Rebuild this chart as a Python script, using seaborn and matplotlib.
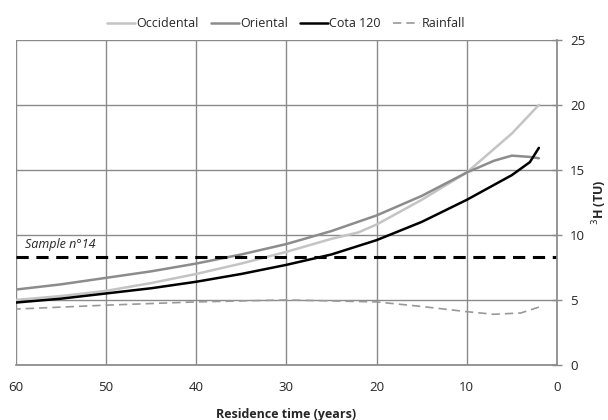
import numpy as np
import pandas as pd
import matplotlib
matplotlib.use('Agg')
import matplotlib.pyplot as plt
import seaborn as sns

# residence time (years) and 3H (TU)
yrs_occ = [60, 55, 50, 45, 40, 35, 30, 25, 22, 20, 15, 10, 5, 2]
occidental = [5.0, 5.3, 5.7, 6.3, 7.0, 7.8, 8.7, 9.7, 10.2, 10.8, 12.7, 14.8, 17.8, 20.0]

yrs_ori = [60, 55, 50, 45, 40, 35, 30, 25, 20, 15, 10, 7, 5, 3, 2]
oriental = [5.8, 6.2, 6.7, 7.2, 7.8, 8.5, 9.3, 10.3, 11.5, 13.0, 14.8, 15.7, 16.1, 16.0, 15.9]

yrs_cota = [60, 55, 50, 45, 40, 35, 30, 25, 20, 15, 10, 5, 3, 2]
cota120 = [4.8, 5.1, 5.5, 5.9, 6.4, 7.0, 7.7, 8.5, 9.6, 11.0, 12.7, 14.6, 15.6, 16.7]

yrs_rain = [60, 50, 40, 30, 20, 15, 10, 7, 4, 2]
rainfall = [4.3, 4.6, 4.85, 5.0, 4.85, 4.5, 4.1, 3.9, 4.0, 4.45]

sample_14 = 8.3

sns.set_theme(style="white")
plt.rcParams['font.family'] = ['Open Sans', 'DejaVu Sans']

fig = plt.figure(figsize=(6.08, 4.2), dpi=100)
ax = fig.add_axes([0.026, 0.131, 0.890, 0.774])

grid_c = '#8a8a8a'
ax.set_xlim(60, 0)
ax.set_ylim(0, 25)
ax.set_xticks(range(60, -1, -10))
ax.set_yticks(range(0, 26, 5))
ax.grid(True, color=grid_c, linewidth=1.0)
ax.set_axisbelow(True)

sns.lineplot(x=yrs_occ, y=occidental, ax=ax, color='#c4c4c4', linewidth=1.8, label='Occidental')
sns.lineplot(x=yrs_ori, y=oriental, ax=ax, color='#8c8c8c', linewidth=1.8, label='Oriental')
sns.lineplot(x=yrs_cota, y=cota120, ax=ax, color='black', linewidth=1.8, label='Cota 120')
sns.lineplot(x=yrs_rain, y=rainfall, ax=ax, color='#999999', linewidth=1.2,
             linestyle=(0, (5, 3)), label='Rainfall')

ax.axhline(sample_14, color='black', linewidth=2.2, linestyle=(0, (4, 2.5)))
ax.text(59, sample_14 + 0.45, 'Sample n°14', style='italic', fontsize=9, ha='left', va='bottom')

for side in ['top', 'left']:
    ax.spines[side].set_visible(False)
ax.spines['right'].set_color(grid_c)
ax.spines['bottom'].set_color(grid_c)
ax.yaxis.tick_right()
ax.yaxis.set_label_position('right')
ax.tick_params(axis='both', direction='inout', length=7, color=grid_c, labelsize=9.5,
               width=1.0)
ax.tick_params(axis='x', pad=8)
ax.tick_params(axis='y', pad=6)
ax.set_xlabel('Residence time (years)', fontsize=9, fontweight='bold', labelpad=10)
ax.set_ylabel('$^{3}$H (TU)', fontsize=9, fontweight='bold')
ax.yaxis.set_label_coords(1.062, 0.5)

ax.legend(loc='lower center', bbox_to_anchor=(0.5, 1.0), ncol=4, frameon=False,
          fontsize=9, handlelength=2.2, handletextpad=0.1, columnspacing=1.0,
          borderaxespad=0.4)

fig.savefig('out.png', dpi=100)
